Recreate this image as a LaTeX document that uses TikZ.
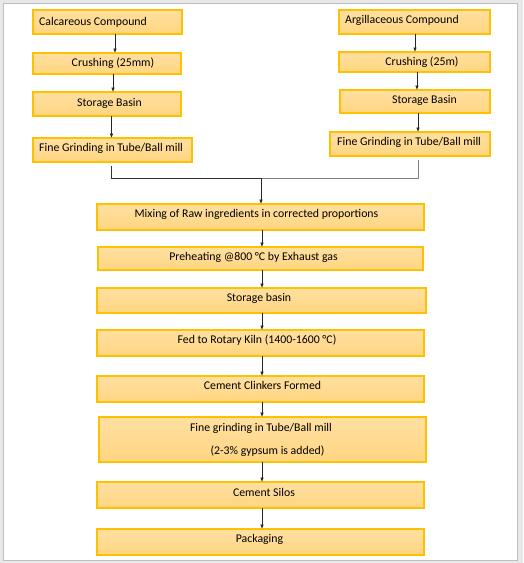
\documentclass[tikz,border=0pt]{standalone}
\usepackage{fontspec}
\setmainfont{Carlito}
\usetikzlibrary{arrows.meta,calc}
\definecolor{boxtop}{RGB}{255,224,162}
\definecolor{boxbot}{RGB}{255,213,128}
\definecolor{boxline}{RGB}{255,192,0}
\begin{document}
\begin{tikzpicture}[x=1pt,y=-1pt,
  stagebox/.style={draw=boxline, line width=1.1pt, top color=boxtop, bottom color=boxbot,
    anchor=north west, inner sep=0pt, outer sep=0pt},
  lbl/.style={font=\fontsize{11.8}{14}\selectfont, inner sep=0pt, anchor=mid},
  lblw/.style={lbl, anchor=mid west},
  arr/.style={-{Latex[length=4.5pt,width=3.6pt]}, line width=0.7pt, draw=black!85},
  joinline/.style={line width=0.8pt},
]
\useasboundingbox (0,0) rectangle (523,563);
\fill[black!9] (0,0) rectangle (523,563);
\draw[fill=white, draw=black!25, line width=0.8pt] (3,3) rectangle (517,560);

% left column
\node[stagebox, minimum width=149pt, minimum height=24pt] (cal) at (33,10) {};
\node[stagebox, minimum width=148pt, minimum height=21pt] (crl) at (33,53) {};
\node[stagebox, minimum width=148pt, minimum height=24pt] (stl) at (33,92) {};
\node[stagebox, minimum width=159pt, minimum height=24pt] (fgl) at (33,138) {};
% right column
\node[stagebox, minimum width=151pt, minimum height=24pt] (arg) at (339,10) {};
\node[stagebox, minimum width=151pt, minimum height=20pt] (crr) at (339,52) {};
\node[stagebox, minimum width=150pt, minimum height=23pt] (str) at (340,90) {};
\node[stagebox, minimum width=160pt, minimum height=24pt] (fgr) at (330,132) {};
% main column
\node[stagebox, minimum width=327pt, minimum height=26pt] (mix) at (97,204) {};
\node[stagebox, minimum width=325pt, minimum height=23pt] (pre) at (98,247) {};
\node[stagebox, minimum width=329pt, minimum height=25pt] (sb) at (97,288) {};
\node[stagebox, minimum width=327pt, minimum height=26pt] (fed) at (97,330) {};
\node[stagebox, minimum width=327pt, minimum height=26pt] (cl) at (97,376) {};
\node[stagebox, minimum width=327pt, minimum height=45pt] (fg) at (99,417) {};
\node[stagebox, minimum width=327pt, minimum height=26pt] (si) at (97,482) {};
\node[stagebox, minimum width=327pt, minimum height=26pt] (pk) at (97,529) {};

% labels
\node[lblw] (tcal) at (39,23) {Calcareous Compound};
\node[lbl] (tcrl) at (113,64) {Crushing (25mm)};
\node[lbl] (tstl) at (109.5,104) {Storage Basin};
\node[lblw] (tfgl) at (39,149) {Fine Grinding in Tube/Ball mill};
\node[lblw] (targ) at (345,21) {Argillaceous Compound};
\node[lbl] (tcrr) at (422,63) {Crushing (25m)};
\node[lbl] (tstr) at (424.5,101) {Storage Basin};
\node[lblw] (tfgr) at (337,143) {Fine Grinding in Tube/Ball mill};
\node[lbl] (tmix) at (256.5,215) {Mixing of Raw ingredients in corrected proportions};
\node[lbl] (tpre) at (253.5,258) {Preheating @800 °C by Exhaust gas};
\node[lbl] (tsb) at (259,299) {Storage basin};
\node[lbl] (tfed) at (257,341) {Fed to Rotary Kiln (1400-1600 °C)};
\node[lbl] (tcl) at (262.5,387) {Cement Clinkers Formed};
\node[lbl] (tfg1) at (261,429) {Fine grinding in Tube/Ball mill};
\node[lbl] (tfg2) at (267.5,452) {(2-3\% gypsum is added)};
\node[lbl] (tsi) at (264,494) {Cement Silos};
\node[lbl] (tpk) at (259.5,540) {Packaging};

% left column arrows
\draw[arr] ([xshift=7.5pt]cal.south) -- ([xshift=7.5pt]cal.south |- crl.north);
\draw[arr] ([xshift=6pt]crl.south) -- ([xshift=6pt]crl.south |- stl.north);
\draw[arr] ([xshift=4.5pt]stl.south) -- ([xshift=4.5pt]stl.south |- fgl.north);
% right column arrows
\draw[arr] ([xshift=0.5pt]arg.south) -- ([xshift=0.5pt]arg.south |- crr.north);
\draw[arr] ([xshift=2.5pt]crr.south) -- ([xshift=2.5pt]crr.south |- str.north);
\draw[arr] ([xshift=3pt]str.south) -- ([xshift=3pt]str.south |- fgr.north);

% merge
\coordinate (m) at (261,178);
\draw[joinline, draw=black!80] ([xshift=-1.5pt,yshift=-4pt]fgl.south) |- (m);
\draw[joinline, draw=black!50] ([xshift=8pt,yshift=-4pt]fgr.south) |- (m);
\draw[arr] (m) -- (m |- mix.north);

% main column arrows
\coordinate (cx) at (262,0);
\draw[arr] (mix.south -| cx) -- (pre.north -| cx);
\draw[arr] (pre.south -| cx) -- (sb.north -| cx);
\draw[arr] (sb.south -| cx) -- (fed.north -| cx);
\draw[arr] (fed.south -| cx) -- (cl.north -| cx);
\draw[arr] (cl.south -| cx) -- (fg.north -| cx);
\draw[arr] (fg.south -| cx) -- (si.north -| cx);
\draw[arr] (si.south -| cx) -- (pk.north -| cx);
\end{tikzpicture}
\end{document}
